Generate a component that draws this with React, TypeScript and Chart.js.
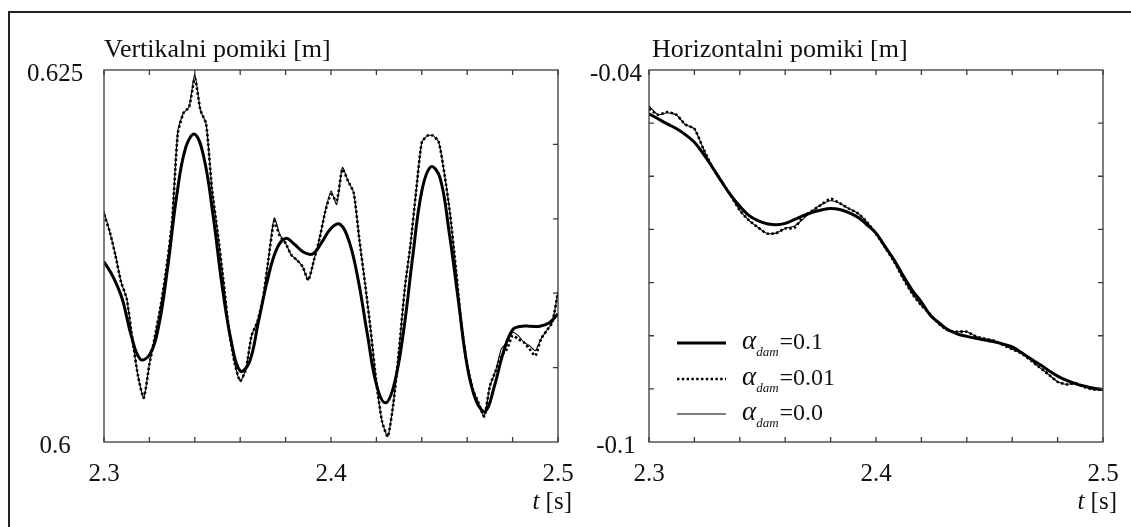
import React, { useEffect, useRef } from "react";
import { Chart, registerables } from "chart.js";

Chart.register(...registerables);

// ---------- data ----------
const tCoarse = [2.3, 2.304, 2.308, 2.312, 2.316, 2.32, 2.324, 2.328, 2.332, 2.336, 2.34, 2.344, 2.348, 2.352, 2.356, 2.36, 2.364, 2.368, 2.372, 2.376, 2.38, 2.384, 2.388, 2.392, 2.396, 2.4, 2.404, 2.408, 2.412, 2.416, 2.42, 2.424, 2.428, 2.432, 2.436, 2.44, 2.444, 2.448, 2.452, 2.456, 2.46, 2.464, 2.468, 2.472, 2.476, 2.48, 2.484, 2.488, 2.492, 2.496, 2.5];

const tFine = [2.3, 2.3025, 2.305, 2.3075, 2.31, 2.3125, 2.315, 2.3175, 2.32, 2.3225, 2.325, 2.3275, 2.33, 2.3325, 2.335, 2.3375, 2.34, 2.3425, 2.345, 2.3475, 2.35, 2.3525, 2.355, 2.3575, 2.36, 2.3625, 2.365, 2.3675, 2.37, 2.3725, 2.375, 2.3775, 2.38, 2.3825, 2.385, 2.3875, 2.39, 2.3925, 2.395, 2.3975, 2.4, 2.4025, 2.405, 2.4075, 2.41, 2.4125, 2.415, 2.4175, 2.42, 2.4225, 2.425, 2.4275, 2.43, 2.4325, 2.435, 2.4375, 2.44, 2.4425, 2.445, 2.4475, 2.45, 2.4525, 2.455, 2.4575, 2.46, 2.4625, 2.465, 2.4675, 2.47, 2.4725, 2.475, 2.4775, 2.48, 2.4825, 2.485, 2.4875, 2.49, 2.4925, 2.495, 2.4975, 2.5];

// Vertical displacement [m]
const vertDam01 = [0.61212, 0.6111, 0.60963, 0.60715, 0.60556, 0.60584, 0.60771, 0.61167, 0.61652, 0.6198, 0.62068, 0.61912, 0.61528, 0.61054, 0.60681, 0.60477, 0.60534, 0.60805, 0.61087, 0.61295, 0.61368, 0.61327, 0.61275, 0.61264, 0.61343, 0.61436, 0.61463, 0.61347, 0.61087, 0.60726, 0.60387, 0.60263, 0.60398, 0.60748, 0.61246, 0.61686, 0.61849, 0.61777, 0.61415, 0.60963, 0.60511, 0.60274, 0.60206, 0.60376, 0.60606, 0.60753, 0.60778, 0.60778, 0.60778, 0.608, 0.60861];

const vertDam001 = [0.61528, 0.61415, 0.61257, 0.61076, 0.60963, 0.60692, 0.60443, 0.60297, 0.60523, 0.60715,
  0.60918, 0.61167, 0.61483, 0.62071, 0.62211, 0.62251, 0.62444, 0.62229, 0.62138, 0.61709,
  0.61415, 0.61099, 0.6076, 0.60534, 0.6041, 0.60489, 0.60715, 0.60805, 0.60963, 0.61234,
  0.61483, 0.61381, 0.61336, 0.61257, 0.61223, 0.61178, 0.61088, 0.61223, 0.6137, 0.61551,
  0.61664, 0.61619, 0.61833, 0.61754, 0.61675, 0.61359, 0.61065, 0.60749, 0.60398, 0.60138,
  0.60037, 0.60263, 0.60624, 0.61031, 0.61325, 0.61686, 0.62014, 0.62059, 0.62059, 0.62014,
  0.61799, 0.61528, 0.61167, 0.60782, 0.60511, 0.60353, 0.60263, 0.60172, 0.60376, 0.60477,
  0.60579, 0.60624, 0.60715, 0.60692, 0.60669, 0.60624, 0.60579, 0.60692, 0.60749, 0.60805,
  0.61008];

const vertDam0 = [0.6155, 0.61415, 0.61257, 0.61076, 0.60963, 0.60692, 0.60443, 0.60297, 0.60523, 0.60715,
  0.60918, 0.61167, 0.61483, 0.6209, 0.62211, 0.62251, 0.6247, 0.62229, 0.62138, 0.61709,
  0.61415, 0.61099, 0.6076, 0.60534, 0.6041, 0.60489, 0.60715, 0.60805, 0.60963, 0.61234,
  0.61506, 0.61393, 0.61336, 0.61257, 0.61223, 0.61178, 0.61088, 0.61223, 0.6137, 0.61551,
  0.61686, 0.61596, 0.61845, 0.61754, 0.61675, 0.61359, 0.61065, 0.60749, 0.60398, 0.60138,
  0.60037, 0.60263, 0.60624, 0.61031, 0.61325, 0.61686, 0.62014, 0.62059, 0.62059, 0.62014,
  0.61799, 0.61528, 0.61167, 0.60782, 0.60511, 0.60353, 0.60263, 0.60172, 0.60376, 0.60477,
  0.60624, 0.60669, 0.60737, 0.60715, 0.60669, 0.60647, 0.60613, 0.60692, 0.60749, 0.60805,
  0.61008];

// Horizontal displacement [m]
const horDam01 = [-0.04705, -0.04787, -0.04868, -0.04944, -0.05042, -0.05166, -0.05356, -0.05573, -0.05801, -0.06018, -0.06197, -0.06344, -0.0643, -0.06479, -0.06496, -0.06474, -0.06414, -0.06349, -0.06295, -0.06257, -0.06235, -0.06251, -0.063, -0.06376, -0.06496, -0.06631, -0.06848, -0.07065, -0.0732, -0.07553, -0.07743, -0.0796, -0.08085, -0.08194, -0.08259, -0.08297, -0.08329, -0.08356, -0.08383, -0.08421, -0.08465, -0.08557, -0.08655, -0.08747, -0.08845, -0.08937, -0.09007, -0.09062, -0.091, -0.09132, -0.09154];

const horDam001 = [-0.04624, -0.04722, -0.04678, -0.04722, -0.04879, -0.04949, -0.05275, -0.05573, -0.05801, -0.06024, -0.06262, -0.06425, -0.06539, -0.06637, -0.06631, -0.06555, -0.0655, -0.06365, -0.06268, -0.0617, -0.06078, -0.06148, -0.06235, -0.06311, -0.06452, -0.06642, -0.06859, -0.07092, -0.07364, -0.07608, -0.07798, -0.07944, -0.08107, -0.08204, -0.08221, -0.08221, -0.08297, -0.08335, -0.08367, -0.08438, -0.08503, -0.08568, -0.08676, -0.08796, -0.0891, -0.09029, -0.09072, -0.09051, -0.09116, -0.09154, -0.09154];

const horDam0 = [-0.0458, -0.04722, -0.0469, -0.04722, -0.04879, -0.04949, -0.05275, -0.05573, -0.05801, -0.06024, -0.06262, -0.06425, -0.06539, -0.06637, -0.06631, -0.06555, -0.0652, -0.064, -0.06268, -0.0617, -0.0611, -0.06148, -0.06235, -0.06311, -0.06452, -0.06642, -0.06859, -0.07092, -0.07364, -0.07608, -0.07798, -0.07944, -0.08107, -0.08204, -0.08221, -0.08221, -0.08297, -0.08335, -0.08367, -0.0843, -0.08503, -0.08568, -0.08676, -0.08796, -0.0891, -0.09029, -0.09072, -0.09051, -0.09116, -0.09154, -0.09154];

// ticks & labels
const xTickValues = [2.3, 2.32, 2.34, 2.36, 2.38, 2.4, 2.42, 2.44, 2.46, 2.48, 2.5];
const xLabelValues = [2.3, 2.4, 2.5];
const xLabelTexts = ["2.3", "2.4", "2.5"];
const vertYTicks = [0.605, 0.61, 0.615, 0.62];
const vertYLabelValues = [0.625, 0.6];
const vertYLabelTexts = ["0.625", "0.6"];
const horYTicks = [-0.04857, -0.05714, -0.06571, -0.07429, -0.08286, -0.09143];
const horYLabelValues = [-0.04, -0.1];
const horYLabelTexts = ["-0.04", "-0.1"];
const legendValues = ["0.1", "0.01", "0.0"];

const SERIF = '"Liberation Serif", "Times New Roman", serif';
const AXIS_COLOR = "#3a3a3a";

type PanelCfg = {
  title: string;
  yMin: number;
  yMax: number;
  yTicks: number[];
  yTicksLeft: boolean;
  yLabelValues: number[];
  yLabelTexts: string[];
  yLabelCenterOffset: number;
  titleOffset: number;
  legend: boolean;
};

function lineStyles() {
  return [
    { borderWidth: 3, borderDash: [] as number[] },
    { borderWidth: 2.6, borderDash: [2.4, 2.4] },
    { borderWidth: 1.1, borderDash: [] as number[] },
  ];
}

function makeDecorPlugin(cfg: PanelCfg) {
  return {
    id: "decor",
    afterDraw(chart: any) {
      const ctx = chart.ctx as CanvasRenderingContext2D;
      const { left, right, top, bottom } = chart.chartArea;
      const xs = chart.scales.x;
      const ys = chart.scales.y;
      ctx.save();
      ctx.strokeStyle = AXIS_COLOR;
      ctx.lineWidth = 1.3;
      ctx.setLineDash([]);
      ctx.strokeRect(left, top, right - left, bottom - top);
      ctx.beginPath();
      const tl = 5;
      for (const v of xTickValues) {
        const px = xs.getPixelForValue(v);
        ctx.moveTo(px, top);
        ctx.lineTo(px, top + tl);
        ctx.moveTo(px, bottom);
        ctx.lineTo(px, bottom - tl);
      }
      for (const v of cfg.yTicks) {
        const py = ys.getPixelForValue(v);
        ctx.moveTo(right, py);
        ctx.lineTo(right - tl, py);
        if (cfg.yTicksLeft) {
          ctx.moveTo(left, py);
          ctx.lineTo(left + tl, py);
        }
      }
      ctx.stroke();

      ctx.fillStyle = "#111";
      ctx.textBaseline = "alphabetic";
      // x labels
      ctx.font = `25px ${SERIF}`;
      ctx.textAlign = "center";
      xLabelValues.forEach((v, i) => {
        ctx.fillText(xLabelTexts[i], xs.getPixelForValue(v), bottom + 39);
      });
      // y labels
      cfg.yLabelValues.forEach((v, i) => {
        ctx.fillText(cfg.yLabelTexts[i], left + cfg.yLabelCenterOffset, ys.getPixelForValue(v) + 11);
      });
      // title
      ctx.textAlign = "left";
      ctx.font = `26px ${SERIF}`;
      ctx.fillText(cfg.title, left + cfg.titleOffset, top - 13);
      // t [s]
      ctx.font = `25px ${SERIF}`;
      const unit = " [s]";
      const uw = ctx.measureText(unit).width;
      const endX = right + 14;
      ctx.fillText(unit, endX - uw, bottom + 67);
      ctx.font = `italic 25px ${SERIF}`;
      const tw = ctx.measureText("t").width;
      ctx.fillText("t", endX - uw - tw, bottom + 67);

      if (cfg.legend) {
        const styles = lineStyles();
        const baselines = [bottom - 93, bottom - 57, bottom - 22];
        baselines.forEach((b, i) => {
          ctx.strokeStyle = "#000";
          ctx.lineWidth = styles[i].borderWidth;
          ctx.setLineDash(styles[i].borderDash);
          ctx.beginPath();
          ctx.moveTo(left + 28, b - 6);
          ctx.lineTo(left + 77, b - 6);
          ctx.stroke();
          ctx.setLineDash([]);
          let x = left + 93;
          ctx.font = `italic 27px ${SERIF}`;
          ctx.fillText("\u03b1", x, b);
          x += ctx.measureText("\u03b1").width;
          ctx.font = `italic 13px ${SERIF}`;
          ctx.fillText("dam", x, b + 7);
          x += ctx.measureText("dam").width + 1;
          ctx.font = `24px ${SERIF}`;
          ctx.fillText("=" + legendValues[i], x, b);
        });
      }
      ctx.restore();
    },
  };
}

function buildDatasets(thickT: number[], thick: number[], dotT: number[], dot: number[], thinT: number[], thin: number[]) {
  const s = lineStyles();
  const mk = (t: number[], v: number[], i: number, tension: number) => ({
    data: t.map((x, k) => ({ x, y: v[k] })),
    borderColor: "#000",
    borderWidth: s[i].borderWidth,
    borderDash: s[i].borderDash,
    borderCapStyle: "butt",
    pointRadius: 0,
    fill: false,
    tension,
  });
  return [mk(thickT, thick, 0, 0.4), mk(dotT, dot, 1, 0.2), mk(thinT, thin, 2, 0.2)];
}

function Panel(props: {
  width: number;
  left: number;
  padding: { left: number; right: number; top: number; bottom: number };
  cfg: PanelCfg;
  datasets: any[];
}) {
  const ref = useRef<HTMLCanvasElement | null>(null);
  useEffect(() => {
    if (!ref.current) return;
    const chart = new Chart(ref.current, {
      type: "line",
      data: { datasets: props.datasets },
      options: {
        animation: false,
        responsive: false,
        devicePixelRatio: 1,
        events: [],
        layout: { padding: props.padding },
        plugins: { legend: { display: false }, tooltip: { enabled: false }, title: { display: false } },
        scales: {
          x: { type: "linear", min: 2.3, max: 2.5, display: false },
          y: { type: "linear", min: props.cfg.yMin, max: props.cfg.yMax, display: false },
        },
      } as any,
      plugins: [makeDecorPlugin(props.cfg)],
    });
    return () => chart.destroy();
  }, []);
  return (
    <canvas
      ref={ref}
      width={props.width}
      height={527}
      style={{ position: "absolute", left: props.left, top: 0, width: props.width, height: 527 }}
    />
  );
}

export default function App() {
  const vertCfg: PanelCfg = {
    title: "Vertikalni pomiki [m]",
    yMin: 0.6,
    yMax: 0.625,
    yTicks: vertYTicks,
    yTicksLeft: false,
    yLabelValues: vertYLabelValues,
    yLabelTexts: vertYLabelTexts,
    yLabelCenterOffset: -49,
    titleOffset: 0,
    legend: false,
  };
  const horCfg: PanelCfg = {
    title: "Horizontalni pomiki [m]",
    yMin: -0.1,
    yMax: -0.04,
    yTicks: horYTicks,
    yTicksLeft: true,
    yLabelValues: horYLabelValues,
    yLabelTexts: horYLabelTexts,
    yLabelCenterOffset: -33,
    titleOffset: 3,
    legend: true,
  };
  return (
    <div
      style={{
        position: "absolute",
        left: 0,
        top: 0,
        width: 1131,
        height: 527,
        overflow: "hidden",
        background: "#fff",
      }}
    >
      <div
        style={{
          position: "absolute",
          left: 8,
          top: 11,
          width: 1200,
          height: 700,
          border: "2px solid #222",
          boxSizing: "border-box",
        }}
      />
      <Panel
        width={580}
        left={0}
        padding={{ left: 104, right: 22, top: 70, bottom: 85 }}
        cfg={vertCfg}
        datasets={buildDatasets(tCoarse, vertDam01, tFine, vertDam001, tFine, vertDam0)}
      />
      <Panel
        width={551}
        left={580}
        padding={{ left: 69, right: 28, top: 70, bottom: 85 }}
        cfg={horCfg}
        datasets={buildDatasets(tCoarse, horDam01, tCoarse, horDam001, tCoarse, horDam0)}
      />
    </div>
  );
}
